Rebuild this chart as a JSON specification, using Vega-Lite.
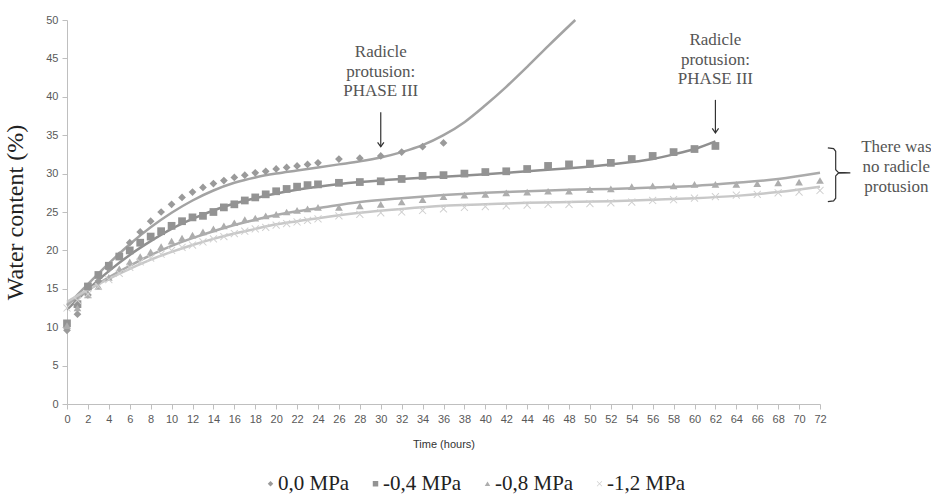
{
  "$schema": "https://vega.github.io/schema/vega-lite/v6.json",
  "width": 753,
  "height": 384,
  "autosize": {"type": "none"},
  "padding": {"left": 67, "top": 20, "right": 111, "bottom": 90},
  "background": "white",
  "config": {
    "font": "Liberation Serif",
    "view": {"stroke": null},
    "axis": {
      "grid": false,
      "domainColor": "#bfbfbf",
      "tickColor": "#bfbfbf",
      "tickSize": 5,
      "labelFont": "Liberation Sans",
      "labelFontSize": 11,
      "labelColor": "#595959",
      "labelOverlap": false,
      "titleFont": "Liberation Sans",
      "titleFontWeight": "normal",
      "titleColor": "#333333"
    },
    "legend": {"labelFont": "Liberation Serif", "labelFontSize": 21, "labelColor": "#222222"}
  },
  "datasets": {
    "pts": [
      {"s": "0,0 MPa", "t": 0, "v": 9.6}, {"s": "0,0 MPa", "t": 1, "v": 11.7}, {"s": "0,0 MPa", "t": 2, "v": 14.2}, {"s": "0,0 MPa", "t": 3, "v": 16.0},
      {"s": "0,0 MPa", "t": 4, "v": 17.6}, {"s": "0,0 MPa", "t": 5, "v": 19.4}, {"s": "0,0 MPa", "t": 6, "v": 21.0}, {"s": "0,0 MPa", "t": 7, "v": 22.4},
      {"s": "0,0 MPa", "t": 8, "v": 23.8}, {"s": "0,0 MPa", "t": 9, "v": 25.0}, {"s": "0,0 MPa", "t": 10, "v": 26.0}, {"s": "0,0 MPa", "t": 11, "v": 26.9},
      {"s": "0,0 MPa", "t": 12, "v": 27.6}, {"s": "0,0 MPa", "t": 13, "v": 28.2}, {"s": "0,0 MPa", "t": 14, "v": 28.7}, {"s": "0,0 MPa", "t": 15, "v": 29.1},
      {"s": "0,0 MPa", "t": 16, "v": 29.5}, {"s": "0,0 MPa", "t": 17, "v": 29.8}, {"s": "0,0 MPa", "t": 18, "v": 30.1}, {"s": "0,0 MPa", "t": 19, "v": 30.3},
      {"s": "0,0 MPa", "t": 20, "v": 30.6}, {"s": "0,0 MPa", "t": 21, "v": 30.8}, {"s": "0,0 MPa", "t": 22, "v": 31.0}, {"s": "0,0 MPa", "t": 23, "v": 31.2},
      {"s": "0,0 MPa", "t": 24, "v": 31.4}, {"s": "0,0 MPa", "t": 26, "v": 31.9}, {"s": "0,0 MPa", "t": 28, "v": 32.0}, {"s": "0,0 MPa", "t": 30, "v": 32.3},
      {"s": "0,0 MPa", "t": 32, "v": 32.8}, {"s": "0,0 MPa", "t": 34, "v": 33.5}, {"s": "0,0 MPa", "t": 36, "v": 34.0},

      {"s": "-0,4 MPa", "t": 0, "v": 10.5}, {"s": "-0,4 MPa", "t": 1, "v": 13.0}, {"s": "-0,4 MPa", "t": 2, "v": 15.3}, {"s": "-0,4 MPa", "t": 3, "v": 16.8},
      {"s": "-0,4 MPa", "t": 4, "v": 18.0}, {"s": "-0,4 MPa", "t": 5, "v": 19.2}, {"s": "-0,4 MPa", "t": 6, "v": 20.0}, {"s": "-0,4 MPa", "t": 7, "v": 21.0},
      {"s": "-0,4 MPa", "t": 8, "v": 21.8}, {"s": "-0,4 MPa", "t": 9, "v": 22.5}, {"s": "-0,4 MPa", "t": 10, "v": 23.2}, {"s": "-0,4 MPa", "t": 11, "v": 23.8},
      {"s": "-0,4 MPa", "t": 12, "v": 24.3}, {"s": "-0,4 MPa", "t": 13, "v": 24.5}, {"s": "-0,4 MPa", "t": 14, "v": 25.0}, {"s": "-0,4 MPa", "t": 15, "v": 25.6},
      {"s": "-0,4 MPa", "t": 16, "v": 26.0}, {"s": "-0,4 MPa", "t": 17, "v": 26.5}, {"s": "-0,4 MPa", "t": 18, "v": 26.9}, {"s": "-0,4 MPa", "t": 19, "v": 27.3},
      {"s": "-0,4 MPa", "t": 20, "v": 27.7}, {"s": "-0,4 MPa", "t": 21, "v": 28.0}, {"s": "-0,4 MPa", "t": 22, "v": 28.3}, {"s": "-0,4 MPa", "t": 23, "v": 28.5},
      {"s": "-0,4 MPa", "t": 24, "v": 28.6}, {"s": "-0,4 MPa", "t": 26, "v": 28.8}, {"s": "-0,4 MPa", "t": 28, "v": 28.9}, {"s": "-0,4 MPa", "t": 30, "v": 29.0},
      {"s": "-0,4 MPa", "t": 32, "v": 29.3}, {"s": "-0,4 MPa", "t": 34, "v": 29.7}, {"s": "-0,4 MPa", "t": 36, "v": 29.8}, {"s": "-0,4 MPa", "t": 38, "v": 30.0},
      {"s": "-0,4 MPa", "t": 40, "v": 30.2}, {"s": "-0,4 MPa", "t": 42, "v": 30.3}, {"s": "-0,4 MPa", "t": 44, "v": 30.6}, {"s": "-0,4 MPa", "t": 46, "v": 31.0},
      {"s": "-0,4 MPa", "t": 48, "v": 31.2}, {"s": "-0,4 MPa", "t": 50, "v": 31.3}, {"s": "-0,4 MPa", "t": 52, "v": 31.4}, {"s": "-0,4 MPa", "t": 54, "v": 31.9},
      {"s": "-0,4 MPa", "t": 56, "v": 32.3}, {"s": "-0,4 MPa", "t": 58, "v": 32.8}, {"s": "-0,4 MPa", "t": 60, "v": 33.2}, {"s": "-0,4 MPa", "t": 62, "v": 33.6},

      {"s": "-0,8 MPa", "t": 0, "v": 10.2}, {"s": "-0,8 MPa", "t": 1, "v": 12.5}, {"s": "-0,8 MPa", "t": 2, "v": 14.2}, {"s": "-0,8 MPa", "t": 3, "v": 15.3},
      {"s": "-0,8 MPa", "t": 4, "v": 16.5}, {"s": "-0,8 MPa", "t": 5, "v": 17.6}, {"s": "-0,8 MPa", "t": 6, "v": 18.5}, {"s": "-0,8 MPa", "t": 7, "v": 19.2},
      {"s": "-0,8 MPa", "t": 8, "v": 19.8}, {"s": "-0,8 MPa", "t": 9, "v": 20.5}, {"s": "-0,8 MPa", "t": 10, "v": 21.2}, {"s": "-0,8 MPa", "t": 11, "v": 21.6},
      {"s": "-0,8 MPa", "t": 12, "v": 22.0}, {"s": "-0,8 MPa", "t": 13, "v": 22.4}, {"s": "-0,8 MPa", "t": 14, "v": 22.8}, {"s": "-0,8 MPa", "t": 15, "v": 23.2},
      {"s": "-0,8 MPa", "t": 16, "v": 23.6}, {"s": "-0,8 MPa", "t": 17, "v": 24.0}, {"s": "-0,8 MPa", "t": 18, "v": 24.2}, {"s": "-0,8 MPa", "t": 19, "v": 24.5},
      {"s": "-0,8 MPa", "t": 20, "v": 24.7}, {"s": "-0,8 MPa", "t": 21, "v": 25.0}, {"s": "-0,8 MPa", "t": 22, "v": 25.2}, {"s": "-0,8 MPa", "t": 23, "v": 25.4},
      {"s": "-0,8 MPa", "t": 24, "v": 25.6}, {"s": "-0,8 MPa", "t": 26, "v": 25.6}, {"s": "-0,8 MPa", "t": 28, "v": 25.8}, {"s": "-0,8 MPa", "t": 30, "v": 26.0},
      {"s": "-0,8 MPa", "t": 32, "v": 26.3}, {"s": "-0,8 MPa", "t": 34, "v": 26.6}, {"s": "-0,8 MPa", "t": 36, "v": 27.0}, {"s": "-0,8 MPa", "t": 38, "v": 27.2},
      {"s": "-0,8 MPa", "t": 40, "v": 27.3}, {"s": "-0,8 MPa", "t": 42, "v": 27.5}, {"s": "-0,8 MPa", "t": 44, "v": 27.6}, {"s": "-0,8 MPa", "t": 46, "v": 27.7},
      {"s": "-0,8 MPa", "t": 48, "v": 27.7}, {"s": "-0,8 MPa", "t": 50, "v": 27.9}, {"s": "-0,8 MPa", "t": 52, "v": 28.0}, {"s": "-0,8 MPa", "t": 54, "v": 28.3},
      {"s": "-0,8 MPa", "t": 56, "v": 28.4}, {"s": "-0,8 MPa", "t": 58, "v": 28.4}, {"s": "-0,8 MPa", "t": 60, "v": 28.6}, {"s": "-0,8 MPa", "t": 62, "v": 28.6},
      {"s": "-0,8 MPa", "t": 64, "v": 28.6}, {"s": "-0,8 MPa", "t": 66, "v": 28.7}, {"s": "-0,8 MPa", "t": 68, "v": 28.8}, {"s": "-0,8 MPa", "t": 70, "v": 28.9},
      {"s": "-0,8 MPa", "t": 72, "v": 29.1},

      {"s": "-1,2 MPa", "t": 0, "v": 12.5}, {"s": "-1,2 MPa", "t": 1, "v": 13.5}, {"s": "-1,2 MPa", "t": 2, "v": 14.3}, {"s": "-1,2 MPa", "t": 3, "v": 15.3},
      {"s": "-1,2 MPa", "t": 4, "v": 16.2}, {"s": "-1,2 MPa", "t": 5, "v": 17.0}, {"s": "-1,2 MPa", "t": 6, "v": 17.8}, {"s": "-1,2 MPa", "t": 7, "v": 18.5},
      {"s": "-1,2 MPa", "t": 8, "v": 19.0}, {"s": "-1,2 MPa", "t": 9, "v": 19.5}, {"s": "-1,2 MPa", "t": 10, "v": 20.0}, {"s": "-1,2 MPa", "t": 11, "v": 20.4},
      {"s": "-1,2 MPa", "t": 12, "v": 20.7}, {"s": "-1,2 MPa", "t": 13, "v": 21.1}, {"s": "-1,2 MPa", "t": 14, "v": 21.5}, {"s": "-1,2 MPa", "t": 15, "v": 21.8},
      {"s": "-1,2 MPa", "t": 16, "v": 22.2}, {"s": "-1,2 MPa", "t": 17, "v": 22.5}, {"s": "-1,2 MPa", "t": 18, "v": 22.8}, {"s": "-1,2 MPa", "t": 19, "v": 23.0},
      {"s": "-1,2 MPa", "t": 20, "v": 23.3}, {"s": "-1,2 MPa", "t": 21, "v": 23.5}, {"s": "-1,2 MPa", "t": 22, "v": 23.7}, {"s": "-1,2 MPa", "t": 23, "v": 23.9},
      {"s": "-1,2 MPa", "t": 24, "v": 24.1}, {"s": "-1,2 MPa", "t": 26, "v": 24.5}, {"s": "-1,2 MPa", "t": 28, "v": 24.7}, {"s": "-1,2 MPa", "t": 30, "v": 24.9},
      {"s": "-1,2 MPa", "t": 32, "v": 25.0}, {"s": "-1,2 MPa", "t": 34, "v": 25.2}, {"s": "-1,2 MPa", "t": 36, "v": 25.4}, {"s": "-1,2 MPa", "t": 38, "v": 25.6},
      {"s": "-1,2 MPa", "t": 40, "v": 25.7}, {"s": "-1,2 MPa", "t": 42, "v": 25.8}, {"s": "-1,2 MPa", "t": 44, "v": 25.9}, {"s": "-1,2 MPa", "t": 46, "v": 26.0},
      {"s": "-1,2 MPa", "t": 48, "v": 26.0}, {"s": "-1,2 MPa", "t": 50, "v": 26.1}, {"s": "-1,2 MPa", "t": 52, "v": 26.2}, {"s": "-1,2 MPa", "t": 54, "v": 26.3},
      {"s": "-1,2 MPa", "t": 56, "v": 26.5}, {"s": "-1,2 MPa", "t": 58, "v": 26.6}, {"s": "-1,2 MPa", "t": 60, "v": 26.8}, {"s": "-1,2 MPa", "t": 62, "v": 27.0},
      {"s": "-1,2 MPa", "t": 64, "v": 27.2}, {"s": "-1,2 MPa", "t": 66, "v": 27.3}, {"s": "-1,2 MPa", "t": 68, "v": 27.5}, {"s": "-1,2 MPa", "t": 70, "v": 27.6},
      {"s": "-1,2 MPa", "t": 72, "v": 27.8}
    ],
    "fits": [
      {"fs": "a", "t": 0, "v": 12.8}, {"fs": "a", "t": 2, "v": 15.6}, {"fs": "a", "t": 4, "v": 18.3}, {"fs": "a", "t": 6, "v": 20.8},
      {"fs": "a", "t": 8, "v": 23.0}, {"fs": "a", "t": 10, "v": 24.9}, {"fs": "a", "t": 12, "v": 26.5}, {"fs": "a", "t": 14, "v": 27.8},
      {"fs": "a", "t": 16, "v": 28.8}, {"fs": "a", "t": 18, "v": 29.5}, {"fs": "a", "t": 20, "v": 30.0}, {"fs": "a", "t": 22, "v": 30.4},
      {"fs": "a", "t": 24, "v": 30.8}, {"fs": "a", "t": 26, "v": 31.2}, {"fs": "a", "t": 28, "v": 31.6}, {"fs": "a", "t": 30, "v": 32.1},
      {"fs": "a", "t": 32, "v": 32.8}, {"fs": "a", "t": 34, "v": 33.7}, {"fs": "a", "t": 36, "v": 35.0}, {"fs": "a", "t": 38, "v": 36.7},
      {"fs": "a", "t": 40, "v": 38.9}, {"fs": "a", "t": 42, "v": 41.3}, {"fs": "a", "t": 44, "v": 43.9}, {"fs": "a", "t": 46, "v": 46.6},
      {"fs": "a", "t": 48.6, "v": 50.0},

      {"fs": "b", "t": 0, "v": 12.3}, {"fs": "b", "t": 2, "v": 14.9}, {"fs": "b", "t": 4, "v": 17.3}, {"fs": "b", "t": 6, "v": 19.4},
      {"fs": "b", "t": 8, "v": 21.2}, {"fs": "b", "t": 10, "v": 22.8}, {"fs": "b", "t": 12, "v": 24.1}, {"fs": "b", "t": 14, "v": 25.2},
      {"fs": "b", "t": 16, "v": 26.1}, {"fs": "b", "t": 18, "v": 26.8}, {"fs": "b", "t": 20, "v": 27.4}, {"fs": "b", "t": 22, "v": 27.9},
      {"fs": "b", "t": 24, "v": 28.3}, {"fs": "b", "t": 28, "v": 28.9}, {"fs": "b", "t": 32, "v": 29.3}, {"fs": "b", "t": 36, "v": 29.6},
      {"fs": "b", "t": 40, "v": 29.9}, {"fs": "b", "t": 44, "v": 30.3}, {"fs": "b", "t": 48, "v": 30.7}, {"fs": "b", "t": 52, "v": 31.2},
      {"fs": "b", "t": 56, "v": 31.9}, {"fs": "b", "t": 58, "v": 32.5}, {"fs": "b", "t": 60, "v": 33.2}, {"fs": "b", "t": 62, "v": 34.2},

      {"fs": "c", "t": 0, "v": 13.0}, {"fs": "c", "t": 2, "v": 14.8}, {"fs": "c", "t": 4, "v": 16.5}, {"fs": "c", "t": 6, "v": 18.0},
      {"fs": "c", "t": 8, "v": 19.4}, {"fs": "c", "t": 10, "v": 20.6}, {"fs": "c", "t": 12, "v": 21.6}, {"fs": "c", "t": 14, "v": 22.5},
      {"fs": "c", "t": 16, "v": 23.3}, {"fs": "c", "t": 18, "v": 24.0}, {"fs": "c", "t": 20, "v": 24.6}, {"fs": "c", "t": 22, "v": 25.1},
      {"fs": "c", "t": 24, "v": 25.5}, {"fs": "c", "t": 28, "v": 26.3}, {"fs": "c", "t": 32, "v": 26.8}, {"fs": "c", "t": 36, "v": 27.2},
      {"fs": "c", "t": 40, "v": 27.5}, {"fs": "c", "t": 44, "v": 27.7}, {"fs": "c", "t": 48, "v": 27.9}, {"fs": "c", "t": 52, "v": 28.0},
      {"fs": "c", "t": 56, "v": 28.2}, {"fs": "c", "t": 60, "v": 28.4}, {"fs": "c", "t": 64, "v": 28.8}, {"fs": "c", "t": 68, "v": 29.3},
      {"fs": "c", "t": 72, "v": 30.1},

      {"fs": "d", "t": 0, "v": 13.3}, {"fs": "d", "t": 2, "v": 14.9}, {"fs": "d", "t": 4, "v": 16.3}, {"fs": "d", "t": 6, "v": 17.6},
      {"fs": "d", "t": 8, "v": 18.8}, {"fs": "d", "t": 10, "v": 19.8}, {"fs": "d", "t": 12, "v": 20.7}, {"fs": "d", "t": 14, "v": 21.5},
      {"fs": "d", "t": 16, "v": 22.2}, {"fs": "d", "t": 18, "v": 22.8}, {"fs": "d", "t": 20, "v": 23.4}, {"fs": "d", "t": 22, "v": 23.8},
      {"fs": "d", "t": 24, "v": 24.2}, {"fs": "d", "t": 28, "v": 24.9}, {"fs": "d", "t": 32, "v": 25.4}, {"fs": "d", "t": 36, "v": 25.8},
      {"fs": "d", "t": 40, "v": 26.0}, {"fs": "d", "t": 44, "v": 26.2}, {"fs": "d", "t": 48, "v": 26.3}, {"fs": "d", "t": 52, "v": 26.4},
      {"fs": "d", "t": 56, "v": 26.6}, {"fs": "d", "t": 60, "v": 26.8}, {"fs": "d", "t": 64, "v": 27.1}, {"fs": "d", "t": 68, "v": 27.6},
      {"fs": "d", "t": 72, "v": 28.3}
    ],
    "notes": [
      {"t": 30, "v": 45.8, "label": "Radicle"},
      {"t": 30, "v": 43.2, "label": "protusion:"},
      {"t": 30, "v": 40.7, "label": "PHASE III"},
      {"t": 62, "v": 47.4, "label": "Radicle"},
      {"t": 62, "v": 44.8, "label": "protusion:"},
      {"t": 62, "v": 42.3, "label": "PHASE III"},
      {"t": 79.3, "v": 33.5, "label": "There was"},
      {"t": 79.3, "v": 30.9, "label": "no radicle"},
      {"t": 79.3, "v": 28.3, "label": "protusion"}
    ],
    "arrows": [
      {"t": 30, "v": 38.0, "v2": 33.5},
      {"t": 62, "v": 39.6, "v2": 35.3}
    ],
    "heads": [
      {"t": 30, "v": 33.5},
      {"t": 62, "v": 35.3}
    ],
    "bracket": [
      {"o": 1, "t": 72.75, "v": 33.35},
      {"o": 2, "t": 73.3, "v": 33.25},
      {"o": 3, "t": 73.5, "v": 32.9},
      {"o": 4, "t": 73.5, "v": 30.5},
      {"o": 5, "t": 73.75, "v": 30.15},
      {"o": 6, "t": 74.9, "v": 30.1},
      {"o": 7, "t": 73.75, "v": 30.05},
      {"o": 8, "t": 73.5, "v": 29.7},
      {"o": 9, "t": 73.5, "v": 26.8},
      {"o": 10, "t": 73.3, "v": 26.45},
      {"o": 11, "t": 72.75, "v": 26.35}
    ]
  },
  "encoding": {
    "x": {
      "field": "t", "type": "quantitative",
      "scale": {"domain": [0, 72], "nice": false, "zero": false},
      "axis": {"values": [0,2,4,6,8,10,12,14,16,18,20,22,24,26,28,30,32,34,36,38,40,42,44,46,48,50,52,54,56,58,60,62,64,66,68,70,72],
               "title": "Time (hours)", "titleFontSize": 11, "titlePadding": 14, "labelPadding": 4, "labelFlush": false}
    },
    "y": {
      "field": "v", "type": "quantitative",
      "scale": {"domain": [0, 50], "nice": false},
      "axis": {"values": [0,5,10,15,20,25,30,35,40,45,50], "title": "Water content (%)",
               "titleFont": "Liberation Serif", "titleFontSize": 24, "titleColor": "#222222",
               "titleX": -40, "titleY": 192, "labelPadding": 4}
    }
  },
  "layer": [
    {
      "data": {"name": "fits"},
      "mark": {"type": "line", "interpolate": "monotone", "strokeWidth": 2.5},
      "encoding": {
        "stroke": {
          "field": "fs", "type": "nominal", "legend": null,
          "scale": {"domain": ["a", "b", "c", "d"], "range": ["#a3a3a3", "#8f8f8f", "#ababab", "#c8c8c8"]}
        },
        "order": {"field": "t", "type": "quantitative"}
      }
    },
    {
      "data": {"name": "pts"},
      "mark": {"type": "point", "filled": true, "size": 60, "opacity": 1},
      "encoding": {
        "color": {
          "field": "s", "type": "nominal",
          "scale": {"domain": ["0,0 MPa", "-0,4 MPa", "-0,8 MPa", "-1,2 MPa"], "range": ["#9a9a9a", "#939393", "#adadad", "#d0d0d0"]},
          "legend": {
            "title": null, "orient": "none", "direction": "horizontal",
            "legendX": 193, "legendY": 453,
            "labelFont": "Liberation Serif", "labelFontSize": 21, "labelColor": "#222222",
            "symbolSize": 30, "labelOffset": -3, "columnPadding": 15, "symbolStrokeWidth": 0,
            "labelLimit": 300,
            "encode": {"labels": {"update": {"font": {"value": "Liberation Serif"}, "fontSize": {"value": 21}}}}
          }
        },
        "shape": {
          "field": "s", "type": "nominal",
          "scale": {"domain": ["0,0 MPa", "-0,4 MPa", "-0,8 MPa", "-1,2 MPa"],
                    "range": ["diamond", "square", "triangle-up", "M-1,-0.82L-0.82,-1L0,-0.18L0.82,-1L1,-0.82L0.18,0L1,0.82L0.82,1L0,0.18L-0.82,1L-1,0.82L-0.18,0Z"]}
        }
      }
    },
    {
      "data": {"name": "notes"},
      "mark": {"type": "text", "font": "Liberation Serif", "fontSize": 17, "color": "#555555", "align": "center", "baseline": "middle", "clip": false},
      "encoding": {
        "text": {"field": "label"}
      }
    },
    {
      "data": {"name": "arrows"},
      "mark": {"type": "rule", "color": "#333333", "strokeWidth": 1.2},
      "encoding": {
        "y2": {"field": "v2"}
      }
    },
    {
      "data": {"name": "heads"},
      "mark": {"type": "point", "filled": false, "shape": "M-1,-1.4L0,0L1,-1.4", "size": 40, "color": "#333333", "strokeWidth": 1.2, "opacity": 1},
      "encoding": {}
    },
    {
      "data": {"name": "bracket"},
      "mark": {"type": "line", "color": "#333333", "strokeWidth": 1.2, "clip": false, "interpolate": "linear"},
      "encoding": {
        "order": {"field": "o", "type": "quantitative"}
      }
    }
  ]
}
